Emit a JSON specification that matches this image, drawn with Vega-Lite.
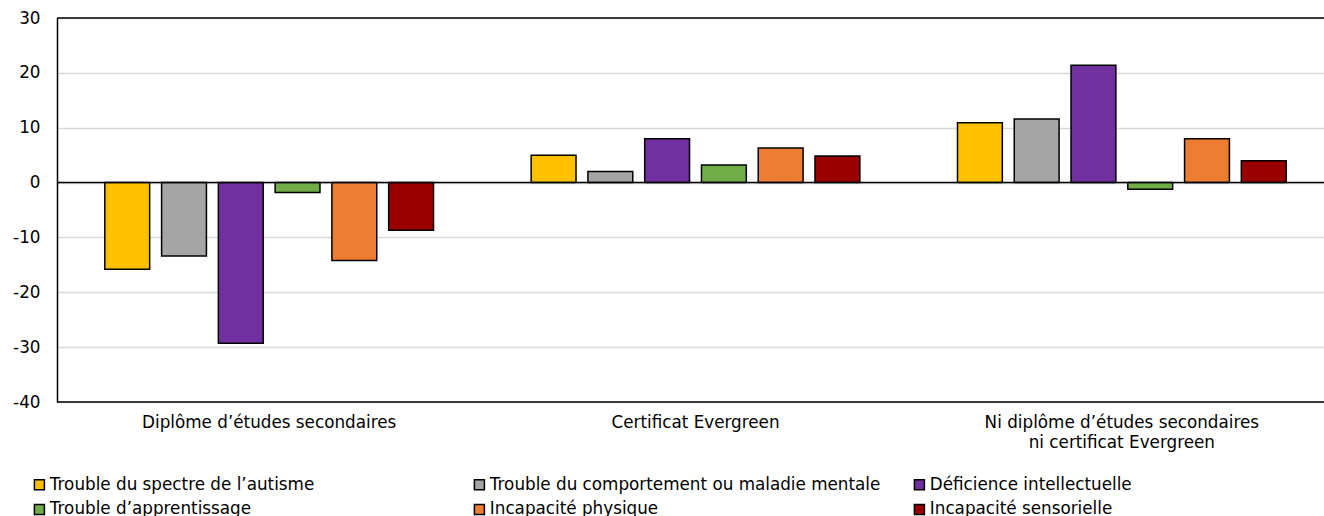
{
  "$schema": "https://vega.github.io/schema/vega-lite/v6.json",
  "width": 1267,
  "height": 384,
  "padding": {"left": 57, "top": 18, "right": 0, "bottom": 114},
  "autosize": {"type": "none"},
  "config": {
    "font": "DejaVu Sans",
    "view": {"stroke": null},
    "axis": {"labelFont": "DejaVu Sans", "labelFontSize": 16.8, "labelColor": "#000000"},
    "legend": {"labelFont": "DejaVu Sans", "labelFontSize": 16.8, "labelColor": "#000000"}
  },
  "datasets": {
    "bars": [
      {"groupe": "Diplôme d’études secondaires", "type": "Trouble du spectre de l’autisme", "valeur": -15.8},
      {"groupe": "Diplôme d’études secondaires", "type": "Trouble du comportement ou maladie mentale", "valeur": -13.4},
      {"groupe": "Diplôme d’études secondaires", "type": "Déficience intellectuelle", "valeur": -29.3},
      {"groupe": "Diplôme d’études secondaires", "type": "Trouble d’apprentissage", "valeur": -1.8},
      {"groupe": "Diplôme d’études secondaires", "type": "Incapacité physique", "valeur": -14.2},
      {"groupe": "Diplôme d’études secondaires", "type": "Incapacité sensorielle", "valeur": -8.7},
      {"groupe": "Certificat Evergreen", "type": "Trouble du spectre de l’autisme", "valeur": 5.0},
      {"groupe": "Certificat Evergreen", "type": "Trouble du comportement ou maladie mentale", "valeur": 2.0},
      {"groupe": "Certificat Evergreen", "type": "Déficience intellectuelle", "valeur": 8.0},
      {"groupe": "Certificat Evergreen", "type": "Trouble d’apprentissage", "valeur": 3.2},
      {"groupe": "Certificat Evergreen", "type": "Incapacité physique", "valeur": 6.3},
      {"groupe": "Certificat Evergreen", "type": "Incapacité sensorielle", "valeur": 4.85},
      {"groupe": "Ni diplôme d’études secondaires ni certificat Evergreen", "type": "Trouble du spectre de l’autisme", "valeur": 10.9},
      {"groupe": "Ni diplôme d’études secondaires ni certificat Evergreen", "type": "Trouble du comportement ou maladie mentale", "valeur": 11.6},
      {"groupe": "Ni diplôme d’études secondaires ni certificat Evergreen", "type": "Déficience intellectuelle", "valeur": 21.4},
      {"groupe": "Ni diplôme d’études secondaires ni certificat Evergreen", "type": "Trouble d’apprentissage", "valeur": -1.2},
      {"groupe": "Ni diplôme d’études secondaires ni certificat Evergreen", "type": "Incapacité physique", "valeur": 8.0},
      {"groupe": "Ni diplôme d’études secondaires ni certificat Evergreen", "type": "Incapacité sensorielle", "valeur": 4.0}
    ],
    "lines": [
      {"v": 30}, {"v": 0}, {"v": -40}
    ]
  },
  "layer": [
    {
      "data": {"name": "bars"},
      "mark": {"type": "bar", "stroke": "#000000", "strokeWidth": 1.5},
      "encoding": {
        "x": {
          "field": "groupe", "type": "nominal", "sort": null,
          "scale": {"paddingInner": 0, "paddingOuter": 0, "range": [-1, 1278]},
          "axis": {
            "title": null, "labelAngle": 0, "ticks": false, "domain": false,
            "labelPadding": 12, "labelLineHeight": 20, "labelLimit": 0,
            "labelExpr": "datum.label == 'Ni diplôme d’études secondaires ni certificat Evergreen' ? ['Ni diplôme d’études secondaires', 'ni certificat Evergreen'] : datum.label"
          }
        },
        "xOffset": {
          "field": "type", "type": "nominal", "sort": null,
          "scale": {"paddingInner": 0.21, "paddingOuter": 0.86}
        },
        "y": {
          "field": "valeur", "type": "quantitative",
          "scale": {"domain": [-40, 30], "nice": false, "zero": false},
          "axis": {
            "title": null, "values": [-40, -30, -20, -10, 0, 10, 20, 30],
            "labelExpr": "'' + datum.value",
            "ticks": false, "domain": true, "domainColor": "#000000", "domainWidth": 1.5,
            "grid": true, "gridColor": "#d9d9d9", "gridWidth": 1.5,
            "labelPadding": 17
          }
        },
        "color": {
          "field": "type", "type": "nominal", "sort": null,
          "scale": {
            "domain": ["Trouble du spectre de l’autisme", "Trouble du comportement ou maladie mentale", "Déficience intellectuelle", "Trouble d’apprentissage", "Incapacité physique", "Incapacité sensorielle"],
            "range": ["#FFC000", "#A5A5A5", "#7030A0", "#70AD47", "#ED7D31", "#990000"]
          },
          "legend": {
            "title": null, "orient": "none", "legendX": -26, "legendY": 458,
            "direction": "horizontal", "columns": 3, "gridAlign": "all",
            "columnPadding": 30, "rowPadding": 7,
            "symbolType": "square", "symbolSize": 100, "symbolStrokeColor": "#000000", "symbolStrokeWidth": 1.5,
            "labelOffset": 2, "labelLimit": 0
          }
        }
      }
    },
    {
      "data": {"name": "lines"},
      "mark": {"type": "rule", "color": "#000000", "strokeWidth": 1.5},
      "encoding": {"y": {"field": "v", "type": "quantitative"}}
    }
  ]
}
